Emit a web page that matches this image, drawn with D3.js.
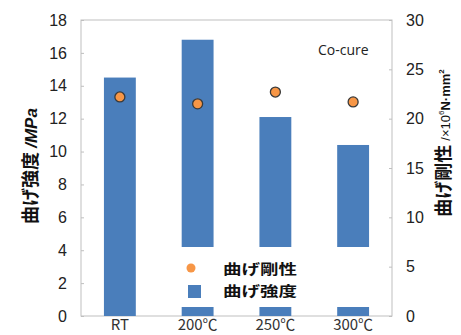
<!DOCTYPE html>
<html>
<head>
<meta charset="utf-8">
<script src="https://cdn.jsdelivr.net/npm/d3@7"></script>
<style>
  body { margin: 0; background: #fff; }
  svg { font-family: Arial, "Liberation Sans", sans-serif; }
</style>
</head>
<body>
<svg id="chart"></svg>
<script>
// data
const categories = ["RT", "200\u2103", "250\u2103", "300\u2103"];
const strength = [14.5, 16.8, 12.1, 10.4];      // 曲げ強度 /MPa (bars, left axis)
const stiffness = [22.2, 21.5, 22.7, 21.7];     // 曲げ剛性 (dots, right axis)
const leftTicks = [0, 2, 4, 6, 8, 10, 12, 14, 16, 18];
const rightTicks = [0, 5, 10, 15, 20, 25, 30];

const width = 461, height = 335;
const margin = { top: 20, right: 69, bottom: 19, left: 81 };
const innerW = width - margin.left - margin.right;
const innerH = height - margin.top - margin.bottom;

const svg = d3.select("#chart").attr("width", width).attr("height", height);
const g = svg.append("g").attr("transform", `translate(${margin.left},${margin.top})`);

const x = d3.scaleBand().domain(categories).range([0, innerW]).paddingInner(0.59).paddingOuter(0.295);
const yL = d3.scaleLinear().domain([0, 18]).range([innerH, 0]);
const yR = d3.scaleLinear().domain([0, 30]).range([innerH, 0]);

// plot frame
g.append("rect")
    .attr("width", innerW).attr("height", innerH)
    .attr("fill", "none").attr("stroke", "#bfbfbf").attr("stroke-width", 1);

// bars
g.selectAll(".bar")
    .data(strength)
    .enter()
    .append("rect")
    .attr("class", "bar")
    .attr("x", (d, i) => x(categories[i]))
    .attr("y", d => yL(d))
    .attr("width", x.bandwidth())
    .attr("height", d => innerH - yL(d))
    .attr("fill", "#4a7ebb");

// dots
g.selectAll(".dot")
    .data(stiffness)
    .enter()
    .append("circle")
    .attr("class", "dot")
    .attr("cx", (d, i) => x(categories[i]) + x.bandwidth() / 2)
    .attr("cy", d => yR(d))
    .attr("r", 5)
    .attr("fill", "#f79646")
    .attr("stroke", "#3a3a3a")
    .attr("stroke-width", 1.3);

// axes
const leftAxis = d3.axisLeft(yL).tickValues(leftTicks).tickSize(-3).tickPadding(14);
const gl = g.append("g").call(leftAxis);
gl.select(".domain").remove();
gl.selectAll("line").attr("stroke", "#bfbfbf");
gl.selectAll("text").attr("font-size", 16).attr("fill", "#222");

const rightAxis = d3.axisRight(yR).tickValues(rightTicks).tickSize(-3).tickPadding(14);
const gr = g.append("g").attr("transform", `translate(${innerW},0)`).call(rightAxis);
gr.select(".domain").remove();
gr.selectAll("line").attr("stroke", "#bfbfbf");
gr.selectAll("text").attr("font-size", 16).attr("fill", "#222");

const bottomAxis = d3.axisBottom(x).tickSize(0).tickPadding(6);
const gb = g.append("g").attr("transform", `translate(0,${innerH})`).call(bottomAxis);
gb.select(".domain").remove();
gb.selectAll("text").attr("font-size", 15).attr("fill", "#333")
    .attr("font-family", "'Noto Sans CJK JP', sans-serif").attr("dy", "0.55em");

// legend box (covers the bars)
const lg = svg.append("g");
lg.append("rect").attr("x", 152).attr("y", 247).attr("width", 236).attr("height", 60).attr("fill", "#fff");
lg.append("circle").attr("cx", 191).attr("cy", 268).attr("r", 4.5).attr("fill", "#f79646");
lg.append("rect").attr("x", 188).attr("y", 285).attr("width", 13).attr("height", 13).attr("fill", "#4a7ebb");
lg.append("text").attr("x", 223).attr("y", 274).attr("font-size", 14).attr("font-weight", "bold")
    .attr("textLength", 74).attr("lengthAdjust", "spacingAndGlyphs")
    .attr("font-family", "'Noto Sans CJK JP', sans-serif").attr("fill", "#111").text("曲げ剛性");
lg.append("text").attr("x", 223).attr("y", 296).attr("font-size", 14).attr("font-weight", "bold")
    .attr("textLength", 74).attr("lengthAdjust", "spacingAndGlyphs")
    .attr("font-family", "'Noto Sans CJK JP', sans-serif").attr("fill", "#111").text("曲げ強度");

// Co-cure label
svg.append("text").attr("x", 318).attr("y", 55).attr("font-size", 14)
    .attr("font-family", "'Open Sans', sans-serif").attr("fill", "#222").text("Co-cure");

// left axis title
const lt = svg.append("text")
    .attr("transform", "translate(37,166) rotate(-90)")
    .attr("text-anchor", "middle").attr("fill", "#111");
lt.append("tspan").attr("font-size", 18).attr("font-weight", "bold")
    .attr("font-family", "'Noto Sans CJK JP', sans-serif").text("曲げ強度 ");
lt.append("tspan").attr("font-size", 17).attr("font-weight", "bold").attr("font-style", "italic").text("/MPa");

// right axis title
const rt = svg.append("text")
    .attr("transform", "translate(450,143) rotate(-90)")
    .attr("text-anchor", "middle").attr("fill", "#111");
rt.append("tspan").attr("font-size", 18).attr("font-weight", "bold")
    .attr("font-family", "'Noto Sans CJK JP', sans-serif").text("曲げ剛性 ");
rt.append("tspan").attr("font-size", 13).text("/×10");
rt.append("tspan").attr("font-size", 8).attr("dy", -6).text("6");
rt.append("tspan").attr("font-size", 13).attr("dy", 6).attr("font-weight", "bold").text("N·mm");
rt.append("tspan").attr("font-size", 8).attr("dy", -6).attr("font-weight", "bold").text("2");
</script>
</body>
</html>
